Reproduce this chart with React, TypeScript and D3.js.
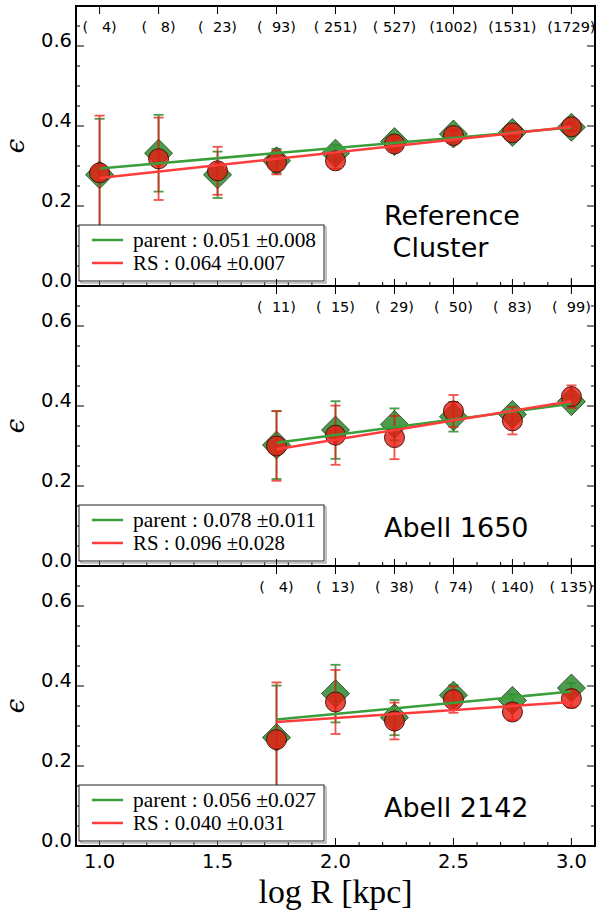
import React from 'react';
import * as d3 from 'd3';

const xsRef = [1.0, 1.25, 1.5, 1.75, 2.0, 2.25, 2.5, 2.75, 3.0];
const xsAbell = [1.75, 2.0, 2.25, 2.5, 2.75, 3.0];

const countsRef = [4, 8, 23, 93, 251, 527, 1002, 1531, 1729];
const counts1650 = [11, 15, 29, 50, 83, 99];
const counts2142 = [4, 13, 38, 74, 140, 135];

const parentRef = [0.278, 0.332, 0.278, 0.313, 0.332, 0.361, 0.380, 0.384, 0.397];
const parentRefErr = [0.14, 0.096, 0.058, 0.03, 0.02, 0.015, 0.012, 0.01, 0.01];
const rsRef = [0.283, 0.318, 0.288, 0.309, 0.313, 0.355, 0.376, 0.383, 0.398];
const rsRefErr = [0.143, 0.103, 0.06, 0.03, 0.02, 0.015, 0.012, 0.01, 0.01];

const parent1650 = [0.3025, 0.34, 0.354, 0.373, 0.379, 0.411];
const parent1650Err = [0.085, 0.072, 0.04, 0.037, 0.02, 0.015];
const rs1650 = [0.30, 0.327, 0.321, 0.3875, 0.363, 0.4235];
const rs1650Err = [0.087, 0.074, 0.054, 0.04, 0.034, 0.028];

const parent2142 = [0.271, 0.381, 0.321, 0.377, 0.364, 0.395];
const parent2142Err = [0.13, 0.072, 0.044, 0.025, 0.015, 0.012];
const rs2142 = [0.266, 0.36, 0.3125, 0.366, 0.335, 0.3685];
const rs2142Err = [0.143, 0.08, 0.046, 0.033, 0.02, 0.022];

const panelNames = [["Reference", " Cluster"], ["Abell 1650"], ["Abell 2142"]];
const fitParentSlope = [0.051, 0.078, 0.056];
const fitParentSlopeErr = [0.008, 0.011, 0.027];
const fitParentIntercept = [0.243, 0.1715, 0.218];
const fitRSSlope = [0.064, 0.096, 0.040];
const fitRSSlopeErr = [0.007, 0.028, 0.031];
const fitRSIntercept = [0.206, 0.124, 0.24];

const yTickValues = [0.0, 0.2, 0.4, 0.6];
const xTickValues = [1.0, 1.5, 2.0, 2.5, 3.0];

const panels = [
  { xs: xsRef, counts: countsRef, parent: parentRef, parentErr: parentRefErr, rs: rsRef, rsErr: rsRefErr },
  { xs: xsAbell, counts: counts1650, parent: parent1650, parentErr: parent1650Err, rs: rs1650, rsErr: rs1650Err },
  { xs: xsAbell, counts: counts2142, parent: parent2142, parentErr: parent2142Err, rs: rs2142, rsErr: rs2142Err },
];

const W = 598, H = 911;
const LEFT = 76, RIGHT = 595;
const TOP0 = 6, PH = 280;

const GREEN = '#2e8b2e';
const GREEN_LINE = '#3a9e3a';
const RED = '#e81a10';
const RED_LINE = '#ff3c3c';
const SANS = 'DejaVu Sans';
const SERIF = 'Liberation Serif';

const x = d3.scaleLinear().domain([0.9, 3.1]).range([LEFT, RIGHT]);

function Panel({ i }: { i: number }) {
  const p = panels[i];
  const top = TOP0 + i * PH;
  const bottom = top + PH;
  const y = d3.scaleLinear().domain([0, 0.7]).range([bottom, top]);
  const yMinor = d3.range(0, 0.7001, 0.05);
  const xMinor = d3.range(0.9, 3.1001, 0.1);
  const showXLabels = i === 2;
  const xFirst = p.xs[0], xLast = p.xs[p.xs.length - 1];
  const fitP = (v: number) => fitParentIntercept[i] + fitParentSlope[i] * v;
  const fitR = (v: number) => fitRSIntercept[i] + fitRSSlope[i] * v;
  const cap = 5;
  const dsz = 14;
  const legTop = top + 219;
  const fmt = (v: number) => v.toFixed(3);
  return (
    <g>
      {yMinor.map((v, k) => {
        const major = Math.abs((v / 0.2) - Math.round(v / 0.2)) < 1e-6;
        const len = major ? 8 : 4;
        return (
          <g key={'ym' + k}>
            <line x1={LEFT} x2={LEFT + len} y1={y(v)} y2={y(v)} stroke="#000" strokeWidth={1} />
            <line x1={RIGHT} x2={RIGHT - len} y1={y(v)} y2={y(v)} stroke="#000" strokeWidth={1} />
          </g>
        );
      })}
      {xMinor.map((v, k) => {
        const major = Math.abs((v / 0.5) - Math.round(v / 0.5)) < 1e-6;
        const len = major ? 8 : 4;
        return <line key={'xm' + k} x1={x(v)} x2={x(v)} y1={bottom} y2={bottom - len} stroke="#000" strokeWidth={1} />;
      })}
      {p.xs.map((v, k) => (
        <line key={'tc' + k} x1={x(v)} x2={x(v)} y1={top - (i === 0 ? 0 : 7)} y2={top + 8} stroke="#000" strokeWidth={1} />
      ))}
      {p.counts.map((c, k) => (
        <text key={'cl' + k} x={x(p.xs[k])} y={top + 26} textAnchor="middle" fontFamily={SANS} fontSize={14.5}
          style={{ whiteSpace: 'pre' }}>{'(' + String(c).padStart(4, ' ') + ')'}</text>
      ))}
      {yTickValues.map((v, k) => (
        <text key={'yl' + k} x={LEFT - 4} y={y(v) + 1} textAnchor="end" fontFamily={SANS} fontSize={19.5}>{v.toFixed(1)}</text>
      ))}
      {showXLabels && xTickValues.map((v, k) => (
        <text key={'xl' + k} x={x(v)} y={bottom + 22} textAnchor="middle" fontFamily={SANS} fontSize={19.5}>{v.toFixed(1)}</text>
      ))}
      <text transform={`translate(24,${(top + bottom) / 2}) rotate(-90)`} textAnchor="middle" fontFamily="DejaVu Serif"
        fontStyle="italic" fontSize={26}>ϵ</text>

      {p.xs.map((v, k) => {
        const cx = x(v);
        const y1 = y(p.parent[k] + p.parentErr[k]);
        const y2 = y(p.parent[k] - p.parentErr[k]);
        return (
          <g key={'pe' + k} stroke={GREEN} strokeWidth={1.8} opacity={0.85}>
            <line x1={cx} x2={cx} y1={y1} y2={y2} />
            <line x1={cx - cap} x2={cx + cap} y1={y1} y2={y1} />
            <line x1={cx - cap} x2={cx + cap} y1={y2} y2={y2} />
          </g>
        );
      })}
      {p.xs.map((v, k) => {
        const cx = x(v), cy = y(p.parent[k]);
        return (
          <path key={'pd' + k} d={`M${cx},${cy - dsz}L${cx + dsz},${cy}L${cx},${cy + dsz}L${cx - dsz},${cy}Z`}
            fill={GREEN} fillOpacity={0.85} stroke="#1a3a1a" strokeWidth={0.8} />
        );
      })}
      {p.xs.map((v, k) => {
        const cx = x(v);
        const y1 = y(p.rs[k] + p.rsErr[k]);
        const y2 = y(p.rs[k] - p.rsErr[k]);
        return (
          <g key={'re' + k} stroke={RED} strokeWidth={1.8} opacity={0.75}>
            <line x1={cx} x2={cx} y1={y1} y2={y2} />
            <line x1={cx - cap} x2={cx + cap} y1={y1} y2={y1} />
            <line x1={cx - cap} x2={cx + cap} y1={y2} y2={y2} />
          </g>
        );
      })}
      {p.xs.map((v, k) => (
        <circle key={'rc' + k} cx={x(v)} cy={y(p.rs[k])} r={10} fill={RED} fillOpacity={0.8} stroke="#3a0a0a" strokeWidth={0.9} />
      ))}
      <line x1={x(xFirst)} x2={x(xLast)} y1={y(fitP(xFirst))} y2={y(fitP(xLast))} stroke={GREEN_LINE} strokeWidth={2.5} />
      <line x1={x(xFirst)} x2={x(xLast)} y1={y(fitR(xFirst))} y2={y(fitR(xLast))} stroke={RED_LINE} strokeWidth={2.5} />

      {panelNames[i].map((s, k) => (
        <text key={'pn' + k} x={384} y={top + (panelNames[i].length === 2 ? 219 + k * 32 : 251)} fontFamily={SANS} fontSize={27}
          style={{ whiteSpace: 'pre' }}>{s}</text>
      ))}

      <rect x={81} y={legTop + 2} width={245} height={56} fill="none" stroke="#888" strokeWidth={1} />
      <rect x={79} y={legTop} width={245} height={56} fill="#fff" stroke="#222" strokeWidth={1} />
      <line x1={92} x2={123} y1={legTop + 15} y2={legTop + 15} stroke={GREEN_LINE} strokeWidth={2.5} />
      <line x1={92} x2={123} y1={legTop + 38} y2={legTop + 38} stroke={RED_LINE} strokeWidth={2.5} />
      <text x={133} y={legTop + 22} fontFamily={SERIF} fontSize={21} textLength={183} lengthAdjust="spacingAndGlyphs">
        {`parent : ${fmt(fitParentSlope[i])} ±${fmt(fitParentSlopeErr[i])}`}
      </text>
      <text x={133} y={legTop + 45} fontFamily={SERIF} fontSize={21} textLength={152} lengthAdjust="spacingAndGlyphs">
        {`RS : ${fmt(fitRSSlope[i])} ±${fmt(fitRSSlopeErr[i])}`}
      </text>

      <rect x={LEFT} y={top} width={RIGHT - LEFT} height={PH} fill="none" stroke="#000" strokeWidth={2} />
    </g>
  );
}

export default function App() {
  return (
    <svg width={W} height={H} style={{ position: 'absolute', left: 0, top: 0, background: '#fff' }}>
      <rect x={0} y={0} width={W} height={H} fill="#fff" />
      {[0, 1, 2].map((i) => <Panel key={i} i={i} />)}
      <text x={x(2.0)} y={903} textAnchor="middle" fontFamily={SERIF} fontSize={33} textLength={154} lengthAdjust="spacingAndGlyphs">log R [kpc]</text>
    </svg>
  );
}
